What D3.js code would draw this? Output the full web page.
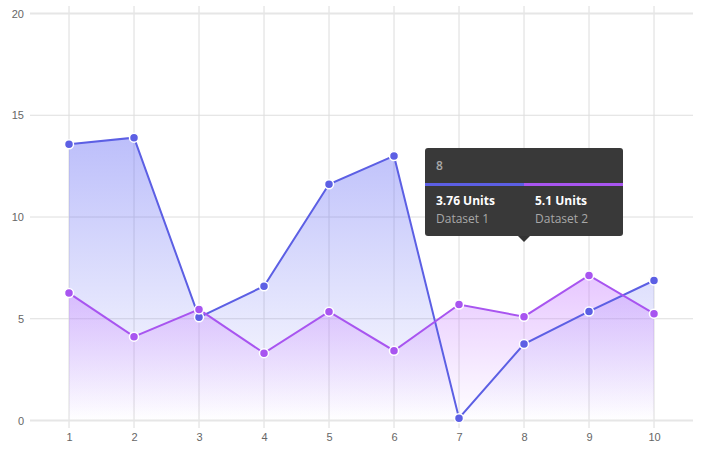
<!DOCTYPE html>
<html>
<head>
<meta charset="utf-8">
<script src="https://cdn.jsdelivr.net/npm/d3@7"></script>
<style>
  body { margin: 0; background: #fff; font-family: "Open Sans", "Noto Sans", sans-serif; }
  .tick text { fill: #666; font-size: 11px; }
</style>
</head>
<body>
<div id="chart"></div>
<script>
// chart data
var labels = [1, 2, 3, 4, 5, 6, 7, 8, 9, 10];
var dataset1 = [13.57, 13.9, 5.07, 6.6, 11.61, 13.0, 0.11, 3.76, 5.36, 6.88];
var dataset2 = [6.26, 4.12, 5.46, 3.31, 5.35, 3.43, 5.7, 5.1, 7.13, 5.25];
var seriesNames = ["Dataset 1", "Dataset 2"];
var yTicks = [0, 5, 10, 15, 20];
var activeIndex = 7;

var width = 707, height = 455;
var c1 = "#5c5fe4", c2 = "#a855f0";

var x = d3.scaleLinear().domain([1, 10]).range([69, 654]);
var y = d3.scaleLinear().domain([0, 20]).range([420.5, 13.5]);

var svg = d3.select("#chart").append("svg")
    .attr("width", width).attr("height", height);

var defs = svg.append("defs");
function grad(id, col, op, topVal) {
  var g = defs.append("linearGradient").attr("id", id)
      .attr("gradientUnits", "userSpaceOnUse")
      .attr("x1", 0).attr("y1", y(topVal)).attr("x2", 0).attr("y2", y(0));
  g.append("stop").attr("offset", "0%").attr("stop-color", col).attr("stop-opacity", op);
  g.append("stop").attr("offset", "100%").attr("stop-color", col).attr("stop-opacity", 0.0);
}
grad("g1", "#6a6ff5", 0.45, 14);
grad("g2", "#c77dff", 0.48, 8);

// grid
svg.append("g").selectAll("line.v").data(labels).join("line")
    .attr("x1", d => x(d)).attr("x2", d => x(d))
    .attr("y1", 6).attr("y2", 428)
    .attr("stroke", "#dcdcdc").attr("stroke-width", 1);

svg.append("g").selectAll("line.h").data(yTicks).join("line")
    .attr("x1", 30).attr("x2", 693)
    .attr("y1", d => y(d)).attr("y2", d => y(d))
    .attr("stroke", d => (d === 0 || d === 20) ? "#e6e6e6" : "#dedede")
    .attr("stroke-width", d => (d === 0 || d === 20) ? 2 : 1);

// axes labels
var yAxis = svg.append("g").attr("transform", "translate(30,0)")
    .call(d3.axisLeft(y).tickValues(yTicks).tickSize(0).tickPadding(6));
yAxis.select(".domain").remove();

var xAxis = svg.append("g").attr("transform", "translate(0," + (y(0)) + ")")
    .call(d3.axisBottom(x).tickValues(labels).tickSize(0).tickPadding(13));
xAxis.select(".domain").remove();

var area = d3.area().x((d, i) => x(labels[i])).y0(y(0)).y1(d => y(d));
var line = d3.line().x((d, i) => x(labels[i])).y(d => y(d));

svg.append("path").datum(dataset1).attr("d", area).attr("fill", "url(#g1)");
svg.append("path").datum(dataset2).attr("d", area).attr("fill", "url(#g2)");

function drawSeries(data, col) {
  svg.append("path").datum(data).attr("d", line)
      .attr("fill", "none").attr("stroke", col).attr("stroke-width", 2);
  svg.append("g").selectAll("circle").data(data).join("circle")
      .attr("cx", (d, i) => x(labels[i])).attr("cy", d => y(d))
      .attr("r", 4.5).attr("fill", col)
      .attr("stroke", "#fff").attr("stroke-width", 1.5);
}
drawSeries(dataset1, c1);
drawSeries(dataset2, c2);

// tooltip
var tx = x(labels[activeIndex]);
var tw = 198, th = 88, tTop = 148;
var tl = tx - 99;
var tip = svg.append("g");
tip.append("rect").attr("x", tl).attr("y", tTop).attr("width", tw).attr("height", th)
    .attr("rx", 3).attr("fill", "#333").attr("fill-opacity", 0.97);
tip.append("path")
    .attr("d", "M" + (tx - 6) + "," + (tTop + th) + "L" + tx + "," + (tTop + th + 6) + "L" + (tx + 6) + "," + (tTop + th) + "Z")
    .attr("fill", "#333");
tip.append("text").attr("x", tl + 11).attr("y", tTop + 22)
    .attr("fill", "#a8a8a8").attr("font-size", 12).attr("font-weight", 600).text(labels[activeIndex]);
tip.append("rect").attr("x", tl).attr("y", tTop + 35).attr("width", tw / 2).attr("height", 3).attr("fill", c1);
tip.append("rect").attr("x", tl + tw / 2).attr("y", tTop + 35).attr("width", tw / 2).attr("height", 3).attr("fill", c2);
var vals = [dataset1[activeIndex], dataset2[activeIndex]];
vals.forEach(function(v, i) {
  var cx = tl + 11 + i * 99;
  tip.append("text").attr("x", cx).attr("y", tTop + 57)
      .attr("fill", "#fff").attr("font-size", 12).attr("font-weight", "bold")
      .text(v + " Units");
  tip.append("text").attr("x", cx).attr("y", tTop + 75)
      .attr("fill", "#a8a8a8").attr("font-size", 12).text(seriesNames[i]);
});
</script>
</body>
</html>
